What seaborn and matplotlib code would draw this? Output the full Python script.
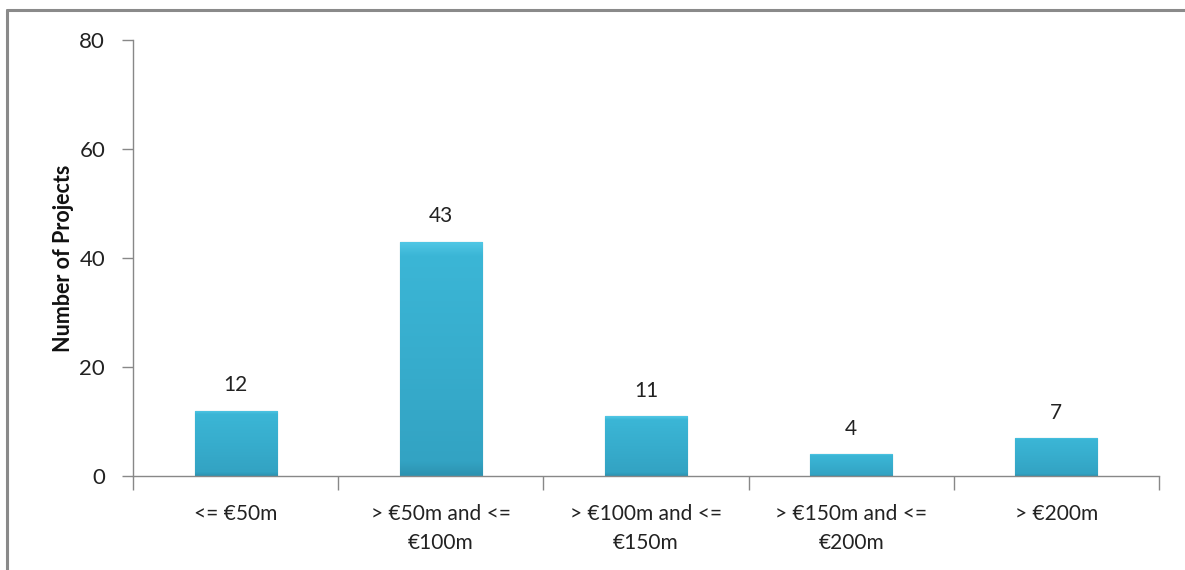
import matplotlib
matplotlib.use("Agg")
import matplotlib.pyplot as plt
import seaborn as sns
import pandas as pd
import numpy as np
from matplotlib.lines import Line2D
from matplotlib.ticker import FixedLocator
from matplotlib.colors import LinearSegmentedColormap

categories = ["<= €50m", "> €50m and <=\n€100m", "> €100m and <=\n€150m",
              "> €150m and <=\n€200m", "> €200m"]
projects = [12, 43, 11, 4, 7]
y_ticks = [0, 20, 40, 60, 80]

sns.set_theme(style="white")
plt.rcParams['font.family'] = ['Lato', 'DejaVu Sans']

df = pd.DataFrame({"cat": categories, "n": projects})

fig = plt.figure(figsize=(11.85, 5.7), dpi=100)
ax = fig.add_axes([133/1185, 1-476/570, (1159-133)/1185, (476-40)/570])

sns.barplot(data=df, x="cat", y="n", ax=ax, width=0.4, color="#36ACCC",
            edgecolor="#1E7088", linewidth=0.8, saturation=1)

# subtle vertical gradient on bars (bevel look)
cmap = LinearSegmentedColormap.from_list(
    "bev", [(0, "#2C92B0"), (0.06, "#33A3C3"), (0.5, "#37ADCD"), (0.94, "#3BB6D6"), (1, "#52C8E6")])
grad = np.linspace(0, 1, 256).reshape(-1, 1)
for p in ax.patches:
    x0, y0 = p.get_x(), p.get_y()
    w, h = p.get_width(), p.get_height()
    im = ax.imshow(grad, cmap=cmap, aspect="auto", origin="lower",
                   extent=[x0, x0 + w, y0, y0 + h], zorder=p.get_zorder() + 0.1)
    im.set_clip_path(p)

for i, v in enumerate(projects):
    ax.annotate(str(v), (i, v), xytext=(0, 11), textcoords="offset points",
                ha="center", va="bottom", fontsize=15, color="#222222")

ax.set_ylim(0, 80)
ax.set_xlim(-0.5, len(categories) - 0.5)
ax.set_yticks(y_ticks)
ax.tick_params(axis="y", length=8, width=1, color="#888888", labelsize=16,
               labelcolor="#222222", pad=12, left=True)
ax.tick_params(axis="x", which="major", length=0, labelsize=15,
               labelcolor="#222222", pad=20)
ax.xaxis.set_minor_locator(FixedLocator([i + 0.5 for i in range(-1, len(categories))]))
ax.tick_params(axis="x", which="minor", length=10, width=1, color="#888888",
               bottom=True)
ax.set_xlabel("")
ax.set_ylabel("Number of Projects", fontsize=15.5, fontweight="bold",
              color="#111111", labelpad=4)
for lbl in ax.get_xticklabels():
    lbl.set_linespacing(1.55)

for s in ["top", "right"]:
    ax.spines[s].set_visible(False)
for s in ["left", "bottom"]:
    ax.spines[s].set_color("#888888")
    ax.spines[s].set_linewidth(1)

# outer frame (left and top)
fig.add_artist(Line2D([7/1185, 7/1185], [0, 1-10/570], transform=fig.transFigure,
                      color="#8a8a8a", linewidth=2.2))
fig.add_artist(Line2D([7/1185, 1], [1-10/570, 1-10/570], transform=fig.transFigure,
                      color="#8a8a8a", linewidth=2.2))

fig.savefig("out.png", dpi=100)
